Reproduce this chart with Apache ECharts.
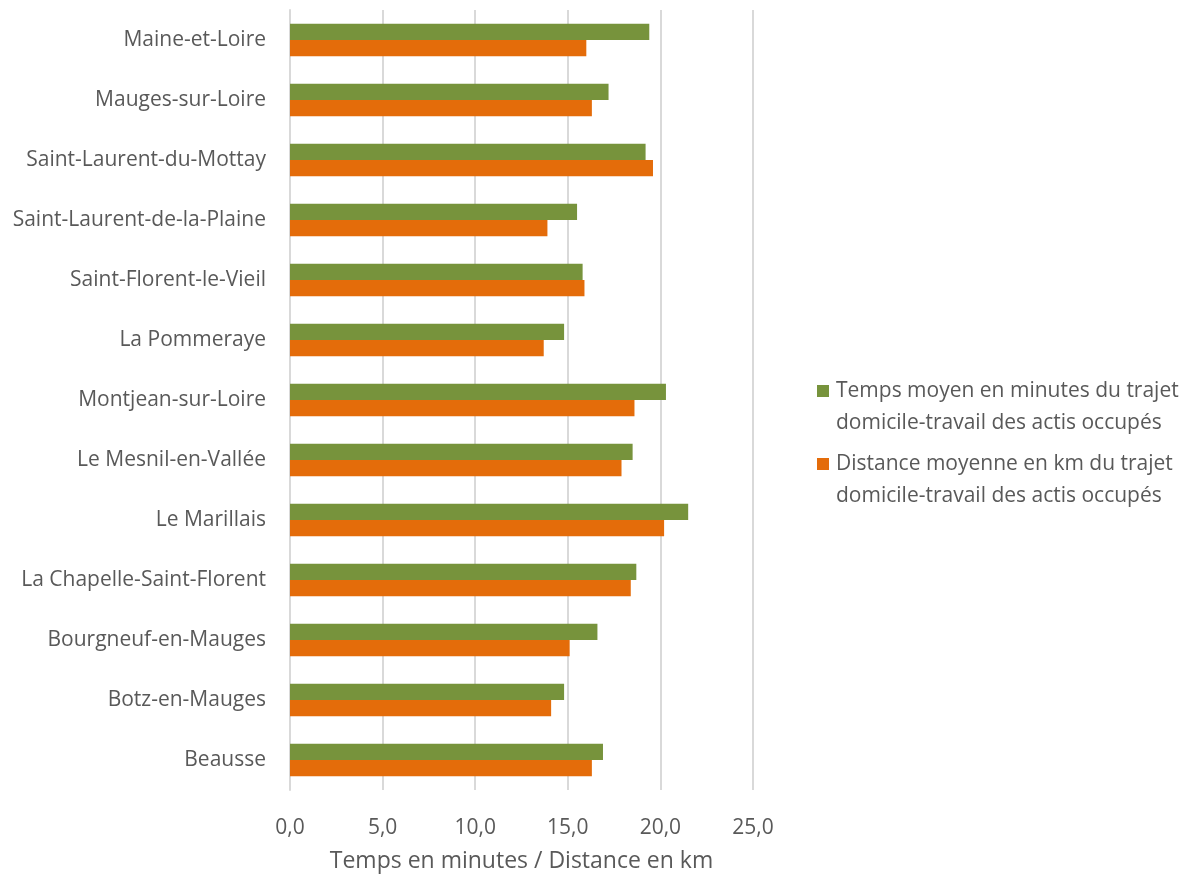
<!DOCTYPE html>
<html>
<head>
<meta charset="utf-8">
<script src="https://cdn.jsdelivr.net/npm/echarts@6/dist/echarts.min.js"></script>
<style>
html,body{margin:0;padding:0;background:#fff;}
#chart{width:1192px;height:875px;}
</style>
</head>
<body>
<div id="chart"></div>
<script>
const categories = ["Maine-et-Loire","Mauges-sur-Loire","Saint-Laurent-du-Mottay","Saint-Laurent-de-la-Plaine","Saint-Florent-le-Vieil","La Pommeraye","Montjean-sur-Loire","Le Mesnil-en-Vallée","Le Marillais","La Chapelle-Saint-Florent","Bourgneuf-en-Mauges","Botz-en-Mauges","Beausse"];
const tempsMoyen = [19.4,17.2,19.2,15.5,15.8,14.8,20.3,18.5,21.5,18.7,16.6,14.8,16.9];
const distanceMoyenne = [16.0,16.3,19.6,13.9,15.9,13.7,18.6,17.9,20.2,18.4,15.1,14.1,16.3];
const seriesNames = ["Temps moyen en minutes du trajet\ndomicile-travail des actis occupés","Distance moyenne en km du trajet\ndomicile-travail des actis occupés"];
const axisTitle = "Temps en minutes / Distance en km";

const font = "Open Sans";
const legendBase = {
  orient:'vertical',left:812,
  itemWidth:12,itemHeight:12,
  icon:'rect',
  formatter: n => ' \n' + n,
  textStyle:{fontFamily:font,fontSize:21,color:'#595959',lineHeight:32,padding:[0,0,0,2]}
};
const chart = echarts.init(document.getElementById('chart'));
chart.setOption({
  animation:false,
  textStyle:{fontFamily:font},
  grid:{left:290,right:439,top:10,bottom:85,containLabel:false,outerBoundsMode:'none'},
  legend:[
    Object.assign({}, legendBase, {top:338, data:[seriesNames[0]]}),
    Object.assign({}, legendBase, {top:411, data:[seriesNames[1]]})
  ],
  xAxis:{
    type:'value',min:0,max:25,interval:5,
    axisLabel:{formatter:v=>v.toFixed(1).replace('.',','),fontSize:21,color:'#595959',margin:28},
    axisLine:{show:false},axisTick:{show:false},
    splitLine:{show:true,lineStyle:{color:'#d9d9d9',width:2}},
    name:axisTitle,nameLocation:'middle',nameGap:60,
    nameTextStyle:{fontSize:23,color:'#595959'}
  },
  yAxis:{
    type:'category',data:categories,inverse:true,
    axisLine:{show:true,lineStyle:{color:'#d9d9d9',width:2}},
    axisTick:{show:false},
    axisLabel:{fontSize:21,color:'#595959',margin:24}
  },
  series:[
    {name:seriesNames[0],type:'bar',data:tempsMoyen,itemStyle:{color:'#77933c'},barGap:'0%',barCategoryGap:'46%'},
    {name:seriesNames[1],type:'bar',data:distanceMoyenne,itemStyle:{color:'#e46c0a'},barGap:'0%',barCategoryGap:'46%'}
  ]
});
</script>
</body>
</html>
